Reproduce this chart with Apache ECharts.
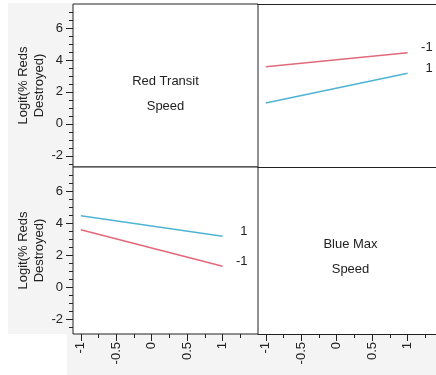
<!DOCTYPE html>
<html>
<head>
<meta charset="utf-8">
<script src="https://cdn.jsdelivr.net/npm/echarts@6/dist/echarts.min.js"></script>
<style>
  html, body { margin: 0; padding: 0; background: #fff; }
  #chart { width: 436px; height: 375px; }
</style>
</head>
<body>
<div id="chart"></div>
<script>
// factor levels used on every x axis
var levels = [-1, 1];
// top right cell: x = Blue Max Speed, one line for each Red Transit Speed level
var redTransitLow = [3.58, 4.45];   // Red Transit Speed = -1
var redTransitHigh = [1.30, 3.17];  // Red Transit Speed = 1
// bottom left cell: x = Red Transit Speed, one line for each Blue Max Speed level
var blueMaxHigh = [4.45, 3.17];     // Blue Max Speed = 1
var blueMaxLow = [3.58, 1.30];      // Blue Max Speed = -1

var xTickLabels = [-1, -0.5, 0, 0.5, 1];
var xMinorTicks = [-0.75, -0.25, 0.25, 0.75, 1.25];
var yTickLabels = [-2, 0, 2, 4, 6];
var yMinorTicks = [-2.5, -1.5, -1, -0.5, 0.5, 1, 1.5, 2.5, 3, 3.5, 4.5, 5, 5.5, 6.5, 7];

var RED = '#e2687a';
var BLUE = '#4fb4d4';
var TXT = '#222';
var LINE = '#222';
var FONT = 'Liberation Sans, Arial, sans-serif';

var myChart = echarts.init(document.getElementById('chart'));

// 0 top left, 1 top right, 2 bottom left, 3 bottom right
// right column is cut off by the window edge (no right border), so it gets
// no grid box; its top/bottom edges come from axis lines instead
var cells = [
  { left: 73, width: 185, xmax: 1.5, top: 4, height: 163, ymin: -2.7, showY: true, showX: false, box: true },
  { left: 258, width: 178, xmax: 1.4, top: 4, height: 163, ymin: -2.7, showY: false, showX: false, box: false },
  { left: 73, width: 185, xmax: 1.5, top: 167, height: 167, ymin: -2.94, showY: true, showX: true, box: true },
  { left: 258, width: 178, xmax: 1.4, top: 167, height: 167, ymin: -2.94, showY: false, showX: true, box: false }
];

var grids = [], xAxes = [], yAxes = [];
cells.forEach(function (c, i) {
  grids.push({
    left: c.left, width: c.width, top: c.top, height: c.height,
    show: c.box, backgroundColor: '#fff', borderColor: LINE, borderWidth: 1
  });
  xAxes.push({
    type: 'value', gridIndex: i, position: 'bottom', min: -1.11, max: c.xmax,
    axisLine: { show: !c.box, onZero: false, lineStyle: { color: LINE, width: 1 } },
    splitLine: { show: false },
    axisTick: { show: c.showX, length: 7, customValues: xTickLabels, lineStyle: { color: LINE } },
    axisLabel: { show: c.showX, customValues: xTickLabels, rotate: 90, margin: 8,
      fontSize: 13, fontFamily: FONT, color: TXT }
  });
  yAxes.push({
    type: 'value', gridIndex: i, position: 'left', min: c.ymin, max: 7.5,
    axisLine: { show: false, onZero: false },
    splitLine: { show: false },
    axisTick: { show: c.showY, length: 7, customValues: yTickLabels, lineStyle: { color: LINE } },
    axisLabel: { show: c.showY, customValues: yTickLabels, margin: 10,
      fontSize: 13, fontFamily: FONT, color: TXT },
    name: c.showY ? 'Logit(% Reds\nDestroyed)' : '',
    nameLocation: 'middle', nameGap: 25,
    nameTextStyle: { fontSize: 13, fontFamily: FONT, color: TXT, lineHeight: 16, align: 'center' }
  });
});
// top edge of the top right cell
xAxes.push({
  type: 'value', gridIndex: 1, position: 'top', min: -1.11, max: 1.4,
  axisLine: { show: true, onZero: false, lineStyle: { color: LINE, width: 1 } },
  splitLine: { show: false }, axisTick: { show: false }, axisLabel: { show: false }
});
// minor ticks
[2, 3].forEach(function (i) {
  xAxes.push({
    type: 'value', gridIndex: i, position: 'bottom', min: -1.11, max: cells[i].xmax,
    axisLine: { show: false, onZero: false }, splitLine: { show: false },
    axisTick: { length: 4, customValues: xMinorTicks, lineStyle: { color: LINE } },
    axisLabel: { show: false }
  });
});
[0, 2].forEach(function (i) {
  yAxes.push({
    type: 'value', gridIndex: i, position: 'left', min: cells[i].ymin, max: 7.5,
    axisLine: { show: false, onZero: false }, splitLine: { show: false },
    axisTick: { length: 4, customValues: yMinorTicks, lineStyle: { color: LINE } },
    axisLabel: { show: false }
  });
});

function makeLine(cell, vals, color, tag) {
  var data = levels.map(function (x, k) { return [x, vals[k]]; });
  data[data.length - 1] = {
    value: data[data.length - 1],
    label: {
      show: true, formatter: tag, position: 'right', distance: 25, align: 'right',
      offset: [0, -5], fontSize: 13, fontFamily: FONT, color: TXT
    }
  };
  return {
    type: 'line', xAxisIndex: cell, yAxisIndex: cell, data: data,
    symbol: 'circle', symbolSize: 0, silent: true,
    lineStyle: { color: color, width: 1.5 }, itemStyle: { color: color }
  };
}

var cellText = { fontSize: 13, fontFamily: FONT, fill: TXT, align: 'center', verticalAlign: 'middle', lineHeight: 25 };

myChart.setOption({
  animation: false,
  backgroundColor: '#fff',
  grid: grids,
  xAxis: xAxes,
  yAxis: yAxes,
  graphic: [
    { type: 'rect', z: -10, shape: { x: 8, y: 3, width: 65, height: 331 }, style: { fill: '#f4f4f4' } },
    { type: 'rect', z: -10, shape: { x: 67, y: 334, width: 369, height: 41 }, style: { fill: '#f4f4f4' } },
    { type: 'text', x: 165.5, y: 94, z: 10, style: Object.assign({ text: 'Red Transit\nSpeed' }, cellText) },
    { type: 'text', x: 350.5, y: 256.5, z: 10, style: Object.assign({ text: 'Blue Max\nSpeed' }, cellText) }
  ],
  series: [
    makeLine(1, redTransitLow, RED, '-1'),
    makeLine(1, redTransitHigh, BLUE, '1'),
    makeLine(2, blueMaxHigh, BLUE, '1'),
    makeLine(2, blueMaxLow, RED, '-1')
  ]
});
</script>
</body>
</html>
